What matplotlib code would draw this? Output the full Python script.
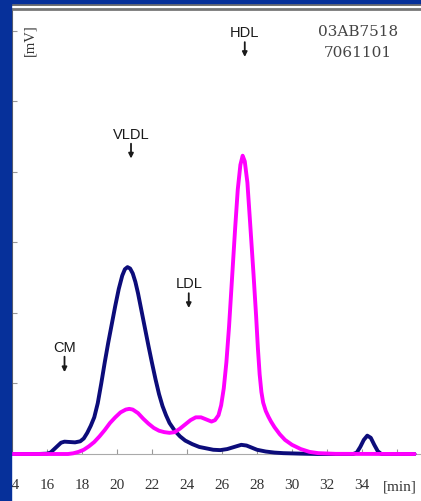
import matplotlib
matplotlib.use("Agg")
import matplotlib.pyplot as plt
from matplotlib.patches import Rectangle
from matplotlib.lines import Line2D

# chromatogram readings (min, mV-ish)
t_navy = [14.0, 15.5, 16.0, 16.2, 16.5, 16.8, 17.0, 17.3, 17.6, 17.9, 18.1, 18.3,
          18.5, 18.7, 18.9, 19.1, 19.3, 19.5, 19.7, 19.9, 20.1, 20.3, 20.45, 20.6,
          20.75, 20.9, 21.05, 21.2, 21.4, 21.6, 21.8, 22.0, 22.2, 22.4, 22.6, 22.8,
          23.0, 23.3, 23.6, 23.9, 24.3, 24.7, 25.1, 25.5, 25.9, 26.3, 26.7, 27.1,
          27.4, 27.7, 28.0, 28.5, 29.0, 29.5, 30.5, 31.5, 33.5, 33.7, 33.9, 34.1,
          34.3, 34.5, 34.7, 34.9, 35.1, 37.0]
v_navy = [0.0, 0.0, 0.05, 0.2, 0.9, 1.6, 1.75, 1.7, 1.65, 1.8, 2.2, 3.0,
          4.0, 5.2, 7.2, 10.0, 13.0, 15.8, 18.4, 21.0, 23.4, 25.3, 26.2, 26.5,
          26.3, 25.6, 24.4, 22.8, 20.3, 17.8, 15.3, 12.9, 10.6, 8.5, 6.8, 5.5,
          4.4, 3.3, 2.5, 1.9, 1.4, 1.0, 0.8, 0.6, 0.55, 0.7, 1.0, 1.3,
          1.2, 0.9, 0.6, 0.35, 0.2, 0.12, 0.05, 0.0, 0.0, 0.2, 1.0, 2.0,
          2.6, 2.3, 1.3, 0.4, 0.0, 0.0]

t_pink = [14.0, 17.2, 17.5, 17.8, 18.1, 18.4, 18.7, 19.0, 19.3, 19.6, 19.9, 20.2,
          20.5, 20.7, 20.9, 21.2, 21.5, 21.8, 22.1, 22.4, 22.7, 23.0, 23.3, 23.6,
          23.9, 24.2, 24.5, 24.8, 25.1, 25.4, 25.6, 25.8, 25.95, 26.1, 26.25, 26.4,
          26.6, 26.75, 26.9, 27.05, 27.18, 27.3, 27.45, 27.6, 27.8, 27.95, 28.05, 28.15,
          28.25, 28.35, 28.5, 28.65, 28.8, 29.0, 29.3, 29.6, 30.0, 30.5, 31.0, 31.5,
          32.5, 37.0]
v_pink = [0.0, 0.0, 0.1, 0.3, 0.6, 1.1, 1.7, 2.5, 3.4, 4.4, 5.2, 5.9,
          6.3, 6.4, 6.3, 5.8, 5.0, 4.3, 3.7, 3.3, 3.1, 3.0, 3.1, 3.6,
          4.2, 4.8, 5.2, 5.2, 4.9, 4.6, 4.8, 5.5, 6.9, 9.3, 13.0, 18.0,
          26.0, 32.0, 37.5, 41.0, 42.3, 41.5, 38.5, 33.0, 25.5, 19.5, 15.0, 11.3,
          8.8, 7.3, 6.1, 5.3, 4.6, 3.8, 2.8, 2.0, 1.3, 0.7, 0.3, 0.12,
          0.02, 0.0]

x_ticks = [14, 16, 18, 20, 22, 24, 26, 28, 30, 32, 34, 36]
x_labels = ["14", "16", "18", "20", "22", "24", "26", "28", "30", "32", "34", ""]
y_ticks = [10, 20, 30, 40, 50, 60]

# peak labels: name, time, text height, arrow top, arrow bottom
peak_names = ["HDL", "VLDL", "LDL", "CM"]
peak_t = [27.3, 20.8, 24.1, 17.0]
peak_text_y = [59.9, 45.4, 24.3, 15.2]
peak_arrow_top = [58.4, 44.0, 22.8, 13.8]
peak_arrow_bot = [56.3, 41.9, 20.7, 11.6]

blue = "#06309a"

fig = plt.figure(figsize=(4.21, 5.02), dpi=100)
ax = fig.add_axes([12/421, 47/502, 409/421, 445/502])

ax.plot(t_navy, v_navy, color="#0c0c7a", lw=2.8, clip_on=False, zorder=3,
        solid_capstyle="round", solid_joinstyle="round")
ax.plot(t_pink, v_pink, color="#ff00ff", lw=2.8, clip_on=False, zorder=4,
        solid_capstyle="round", solid_joinstyle="round")

ax.set_xlim(14, 37.37)
ax.set_ylim(0, 63.1)
ax.set_xticks(x_ticks)
ax.set_xticklabels(x_labels, family="Liberation Serif", fontsize=11, color="#333")
ax.set_yticks(y_ticks)
ax.tick_params(axis="x", direction="in", length=3.6, color="#999", pad=17)
ax.tick_params(axis="y", direction="in", length=3.6, color="#999", labelleft=False)

ax.spines["right"].set_visible(False)
ax.spines["bottom"].set_color("#aaa")
ax.spines["left"].set_color("#666")
ax.spines["top"].set_color("#777")
ax.spines["top"].set_linewidth(2)

for name, t, ty, a0, a1 in zip(peak_names, peak_t, peak_text_y, peak_arrow_top, peak_arrow_bot):
    ax.text(t, ty, name, ha="center", va="center", fontsize=10.5,
            family="Liberation Sans", color="#1a1a1a")
    ax.annotate("", xy=(t, a1), xytext=(t, a0),
                arrowprops=dict(arrowstyle="-|>", lw=1.3, color="#1a1a1a",
                                mutation_scale=7, shrinkA=0, shrinkB=0))

fig.text(358/421, 1-32/502, "03AB7518", ha="center", va="center",
         family="DejaVu Serif", fontsize=11, color="#444")
fig.text(358/421, 1-53/502, "7061101", ha="center", va="center",
         family="DejaVu Serif", fontsize=11, color="#444")
fig.text(30/421, 1-40/502, "[mV]", ha="center", va="center", rotation=90,
         family="Liberation Serif", fontsize=10.5, color="#333")
fig.text(400/421, 1-487/502, "[min]", ha="center", va="center",
         family="Liberation Serif", fontsize=11, color="#333")

# blue frame and top double line
fig.add_artist(Line2D([0, 1], [1-6/502, 1-6/502], color="#555", lw=1.2))
fig.patches.append(Rectangle((0, 0), 11/421, 1, transform=fig.transFigure,
                             color=blue, zorder=10, figure=fig))
fig.patches.append(Rectangle((0, 1-4/502), 1, 4/502, transform=fig.transFigure,
                             color=blue, zorder=10, figure=fig))

fig.savefig("out.png", dpi=100)
